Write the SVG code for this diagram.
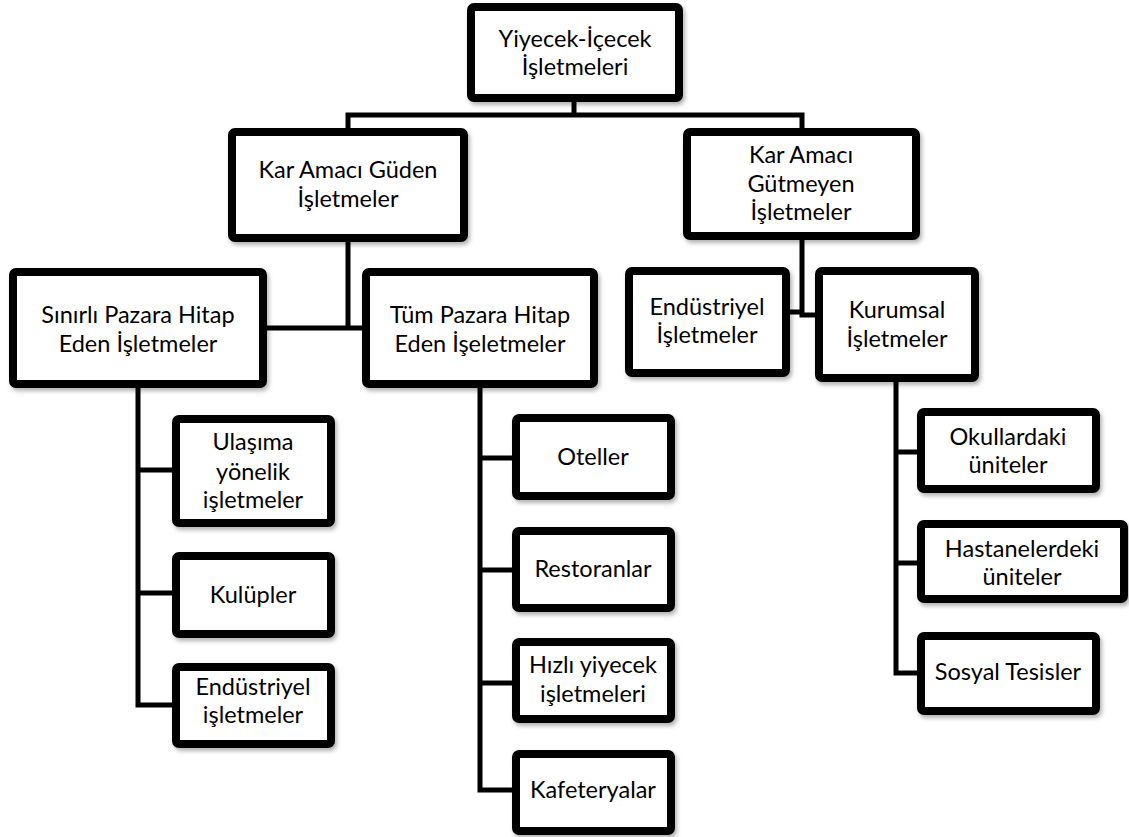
<svg xmlns="http://www.w3.org/2000/svg" width="1129" height="837" viewBox="0 0 1129 837">
<defs>
<filter id="sh" x="-10%" y="-10%" width="130%" height="130%">
<feDropShadow dx="2" dy="3" stdDeviation="2" flood-color="#000" flood-opacity="0.3"/>
</filter>
<style>
.box rect{fill:#fff;stroke:#000;stroke-width:8;filter:url(#sh)}
.box text{font-family:Lato,"Liberation Sans",sans-serif;font-size:23.5px;fill:#000;text-anchor:middle}
.conn path{fill:none;stroke:#000;stroke-width:5;stroke-linejoin:miter}
</style>
</defs>
<rect width="1129" height="837" fill="#fff"/>
<g class="conn">
<path d="M574 102V115M348 128V115H802V128"/>
<path d="M348 242V328M267 328H362"/>
<path d="M802 240V315H815M790 312H802"/>
<path d="M138 388V705H172M138 470H172M138 593H172"/>
<path d="M480 388V790H512M480 458H512M480 570H512M480 683H512"/>
<path d="M896 382V673H917M896 452H917M896 563H917"/>
</g>
<g id="root" class="box"><rect x="471" y="7" width="208" height="91" rx="3"/><text x="575" y="47">Yiyecek-İçecek</text><text x="575" y="75">İşletmeleri</text></g>
<g id="kar-guden" class="box"><rect x="232" y="132" width="232" height="106" rx="3"/><text x="348" y="178">Kar Amacı Güden</text><text x="348" y="207">İşletmeler</text></g>
<g id="kar-gutmeyen" class="box"><rect x="687" y="132" width="229" height="104" rx="3"/><text x="801" y="163">Kar Amacı</text><text x="801" y="192">Gütmeyen</text><text x="801" y="220">İşletmeler</text></g>
<g id="sinirli" class="box"><rect x="13" y="272" width="250" height="112" rx="3"/><text x="138" y="323">Sınırlı Pazara Hitap</text><text x="138" y="352">Eden İşletmeler</text></g>
<g id="tum" class="box"><rect x="366" y="272" width="228" height="112" rx="3"/><text x="480" y="323">Tüm Pazara Hitap</text><text x="480" y="352">Eden İşeletmeler</text></g>
<g id="endustriyel-r" class="box"><rect x="629" y="271" width="157" height="102" rx="3"/><text x="707" y="315">Endüstriyel</text><text x="707" y="343">İşletmeler</text></g>
<g id="kurumsal" class="box"><rect x="819" y="271" width="156" height="107" rx="3"/><text x="897" y="318">Kurumsal</text><text x="897" y="347">İşletmeler</text></g>
<g id="ulasima" class="box"><rect x="176" y="419" width="155" height="104" rx="3"/><text x="253" y="450">Ulaşıma</text><text x="253" y="480">yönelik</text><text x="253" y="508">işletmeler</text></g>
<g id="kulupler" class="box"><rect x="176" y="556" width="155" height="78" rx="3"/><text x="253" y="603">Kulüpler</text></g>
<g id="endustriyel-l" class="box"><rect x="176" y="667" width="155" height="77" rx="3"/><text x="253" y="695">Endüstriyel</text><text x="253" y="723">işletmeler</text></g>
<g id="oteller" class="box"><rect x="516" y="418" width="155" height="78" rx="3"/><text x="593" y="465">Oteller</text></g>
<g id="restoranlar" class="box"><rect x="516" y="531" width="155" height="77" rx="3"/><text x="593" y="577">Restoranlar</text></g>
<g id="hizli" class="box"><rect x="516" y="642" width="155" height="77" rx="3"/><text x="593" y="673">Hızlı yiyecek</text><text x="593" y="702">işletmeleri</text></g>
<g id="kafeteryalar" class="box"><rect x="516" y="754" width="155" height="77" rx="3"/><text x="593" y="798">Kafeteryalar</text></g>
<g id="okullardaki" class="box"><rect x="921" y="412" width="175" height="77" rx="3"/><text x="1008" y="445">Okullardaki</text><text x="1008" y="473">üniteler</text></g>
<g id="hastanelerdeki" class="box"><rect x="921" y="524" width="203" height="75" rx="3"/><text x="1022" y="557">Hastanelerdeki</text><text x="1022" y="585">üniteler</text></g>
<g id="sosyal" class="box"><rect x="921" y="636" width="175" height="75" rx="3"/><text x="1008" y="680">Sosyal Tesisler</text></g>
</svg>
